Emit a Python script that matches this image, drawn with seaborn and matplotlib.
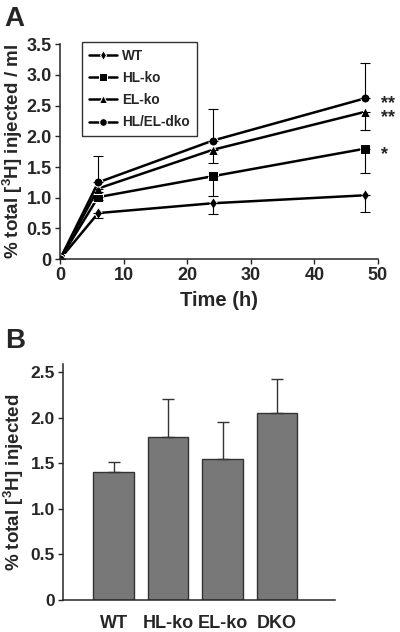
import numpy as np
import pandas as pd
import seaborn as sns
import matplotlib.pyplot as plt

# Panel A: time course
time_h = [0, 6, 24, 48]
groups_a = ['WT', 'HL-ko', 'EL-ko', 'HL/EL-dko']
wt = [0, 0.75, 0.91, 1.04]
hl_ko = [0, 1.01, 1.35, 1.80]
el_ko = [0, 1.15, 1.78, 2.40]
dko = [0, 1.25, 1.93, 2.62]
# one-sided error bars (lower, upper)
wt_err = [[0, 0.08, 0.17, 0.27], [0, 0, 0, 0]]
hl_err = [[0, 0.05, 0.33, 0.40], [0, 0, 0, 0]]
el_err = [[0, 0.05, 0.22, 0.29], [0, 0, 0, 0]]
dko_err = [[0, 0, 0, 0], [0, 0.43, 0.51, 0.58]]
stars = ['', '*', '**', '**']

# Panel B: bars
groups_b = ['WT', 'HL-ko', 'EL-ko', 'DKO']
bar_vals = [1.40, 1.79, 1.55, 2.05]
bar_err = [0.11, 0.42, 0.40, 0.38]

sns.set_style('ticks')
plt.rcParams['font.family'] = ['Liberation Sans', 'DejaVu Sans']
plt.rcParams['font.weight'] = 'bold'
plt.rcParams['axes.labelweight'] = 'bold'
plt.rcParams['axes.linewidth'] = 1.1

fig = plt.figure(figsize=(4, 6.32), dpi=100)
ax1 = fig.add_axes([0.15, 0.590, 0.795, 0.340])
ax2 = fig.add_axes([0.158, 0.0506, 0.680, 0.3734])

series = [wt, hl_ko, el_ko, dko]
errs = [wt_err, hl_err, el_err, dko_err]
df = pd.DataFrame({
    'time': time_h * 4,
    'value': sum(series, []),
    'group': [g for g in groups_a for _ in time_h],
})
markers = {'WT': 'd', 'HL-ko': 's', 'EL-ko': '^', 'HL/EL-dko': 'o'}
sns.lineplot(data=df, x='time', y='value', style='group', markers=markers,
             dashes=False, color='black', linewidth=1.8, markersize=6.5,
             ax=ax1, legend=True)
for vals, e in zip(series, errs):
    ax1.errorbar(time_h, vals, yerr=e, fmt='none', ecolor='black',
                 elinewidth=0.8, capsize=3.5, capthick=0.8)
for vals, s in zip(series, stars):
    if s:
        ax1.text(50.4, vals[-1] - 0.09, s, fontsize=13, fontweight='bold',
                 ha='left', va='center', clip_on=False)

ax1.set_xlim(0, 50)
ax1.set_ylim(0, 3.5)
ax1.set_xticks([0, 10, 20, 30, 40, 50])
yt = [0, 0.5, 1.0, 1.5, 2.0, 2.5, 3.0, 3.5]
ax1.set_yticks(yt)
ax1.set_yticklabels(['0' if v == 0 else f'{v:.1f}' for v in yt])
ax1.tick_params(labelsize=13, length=3.5, width=1, pad=2.5, direction='out')
ax1.set_xlabel('Time (h)', fontsize=14.5, labelpad=5)
ax1.set_ylabel('% total [$^\\mathregular{3}$H] injected / ml', fontsize=13.5, labelpad=1)
sns.despine(ax=ax1)

leg = ax1.legend(loc='upper left', bbox_to_anchor=(0.069, 1.01), frameon=True,
                 fancybox=False, edgecolor='black', fontsize=9.8,
                 handlelength=2.1, labelspacing=0.6, borderpad=0.5,
                 handletextpad=0.35, borderaxespad=0, markerscale=0.85)
leg.get_frame().set_linewidth(1.0)
for t in leg.get_texts():
    t.set_fontweight('bold')

# Panel B
df_b = pd.DataFrame({'group': groups_b, 'value': bar_vals})
sns.barplot(data=df_b, x='group', y='value', color='#787878', saturation=1,
            edgecolor='#333333', linewidth=1.0, width=0.745, ax=ax2)
ax2.errorbar(range(len(groups_b)), bar_vals, yerr=[[0] * 4, bar_err], fmt='none',
             ecolor='#333333', elinewidth=1.0, capsize=4, capthick=1.0)
ax2.set_xlim(-0.926, 4.07)
ax2.set_ylim(0, 2.59)
yb = [0, 0.5, 1.0, 1.5, 2.0, 2.5]
ax2.set_yticks(yb)
ax2.set_yticklabels(['0' if v == 0 else f'{v:.1f}' for v in yb])
ax2.tick_params(axis='y', labelsize=12.5, length=3.5, width=1, pad=2.5)
ax2.tick_params(axis='x', labelsize=13, length=0, pad=11)
ax2.set_xlabel('')
ax2.set_ylabel('% total [$^\\mathregular{3}$H] injected', fontsize=13.5, labelpad=3)
sns.despine(ax=ax2)

fig.text(0.012, 1 - 6 / 632, 'A', fontsize=20, fontweight='bold', va='top', ha='left')
fig.text(0.012, 1 - 328 / 632, 'B', fontsize=20, fontweight='bold', va='top', ha='left')

fig.savefig('out.png', dpi=100)
